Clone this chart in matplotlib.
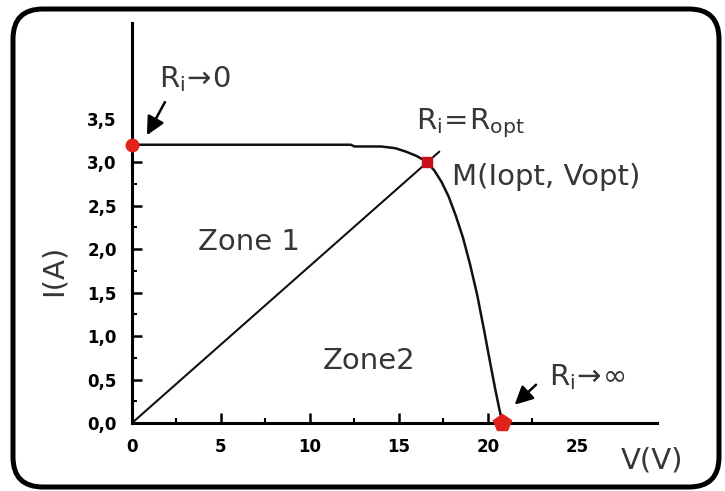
import matplotlib
matplotlib.use("Agg")
import matplotlib.pyplot as plt
from matplotlib.patches import FancyBboxPatch
from matplotlib.transforms import IdentityTransform

# I-V characteristic of the PV module (V in volts, I in amperes)
voltage = [0.0, 12.3, 12.5, 14.0, 14.8, 15.4, 16.0, 16.6, 17.0, 17.4, 17.8,
           18.2, 18.6, 19.0, 19.4, 19.8, 20.1, 20.4, 20.6, 20.75, 20.8]
current = [3.2, 3.2, 3.18, 3.18, 3.16, 3.12, 3.07, 3.0, 2.9, 2.77, 2.6,
           2.38, 2.13, 1.82, 1.47, 1.05, 0.72, 0.40, 0.2, 0.06, 0.0]

# characteristic points
i_sc = 3.2
v_opt, i_opt = 16.6, 3.0
v_oc = 20.8
load_v_end = 17.3

# axis ticks
x_major = [0, 5, 10, 15, 20, 25]
x_minor = [2.5, 7.5, 12.5, 17.5, 22.5]
y_major = [0.0, 0.5, 1.0, 1.5, 2.0, 2.5, 3.0, 3.5]
y_minor = [0.25, 0.75, 1.25, 1.75, 2.25, 2.75]
x_labels = ["0", "5", "10", "15", "20", "25"]
y_labels = ["0,0", "0,5", "1,0", "1,5", "2,0", "2,5", "3,0", "3,5"]

W, H, DPI = 725, 491, 100
fig = plt.figure(figsize=(W / DPI, H / DPI), dpi=DPI)
fig.patch.set_facecolor("white")

# rounded frame around the whole graphic
frame = FancyBboxPatch((13, 4), 706, 478,
                       boxstyle="round,pad=0,rounding_size=30",
                       transform=IdentityTransform(), facecolor="none",
                       edgecolor="black", linewidth=3.6)
fig.patches.append(frame)

ax = fig.add_axes([132 / W, (H - 423) / H, 525 / W, 400 / H])
ax.set_xlim(0, 29.5)
ax.set_ylim(0, 4.6)
for s in ("top", "right"):
    ax.spines[s].set_visible(False)
for s in ("left", "bottom"):
    ax.spines[s].set_linewidth(2.2)

tick_font = dict(family=["Liberation Sans Narrow", "DejaVu Sans"],
                 weight="bold", size=12)
ax.set_xticks(x_major)
ax.set_xticklabels(x_labels, **tick_font)
ax.set_yticks(y_major)
ax.set_yticklabels(y_labels, **tick_font)
ax.set_xticks(x_minor, minor=True)
ax.set_yticks(y_minor, minor=True)
ax.tick_params(which="major", direction="in", length=7, width=1.8, pad=11)
ax.tick_params(which="minor", direction="in", length=3.5, width=1.5)
# outermost labelled values carry no tick mark
ax.xaxis.get_major_ticks()[-1].tick1line.set_visible(False)
ax.yaxis.get_major_ticks()[-1].tick1line.set_visible(False)

# load line through the maximum power point
slope = i_opt / v_opt
ax.plot([0, load_v_end], [0, slope * load_v_end], color="#111111",
        lw=1.5, solid_capstyle="butt")

# I-V curve
ax.plot(voltage, current, color="#111111", lw=1.8)

red = "#e3211c"
ax.plot([0], [i_sc], marker="o", ms=9, color=red, mec=red, clip_on=False, zorder=5)
ax.plot([v_opt], [i_opt], marker="s", ms=7.5, color="#c8101a", mec="#c8101a", zorder=5)
ax.plot([v_oc], [0], marker="p", ms=13, color=red, mec=red, clip_on=False, zorder=5)

txt = dict(color="#363636", fontsize=21, family="DejaVu Sans",
           ha="center", va="center")
ax.text(3.55, 3.95, r"$\mathregular{R_i\!\rightarrow\!0}$", **txt)
ax.text(19.0, 3.45, r"$\mathregular{R_i\!=\!R_{opt}}$", **txt)
ax.text(23.3, 2.83, "M(Iopt, Vopt)", **txt)
ax.text(6.6, 2.08, "Zone 1", **txt)
ax.text(13.3, 0.71, "Zone2", **txt)
ax.text(25.6, 0.53, r"$\mathregular{R_i\!\rightarrow\!\infty}$", **txt)
ax.text(29.2, -0.43, "V(V)", **txt)
ax.text(-4.4, 1.75, "I(A)", rotation=90, **txt)

arrow = dict(arrowstyle="-|>,head_length=1.1,head_width=0.55",
             color="black", lw=1.8, shrinkA=0, shrinkB=0)
ax.annotate("", xy=(0.84, 3.31), xytext=(1.85, 3.69), arrowprops=arrow,
            annotation_clip=False)
ax.annotate("", xy=(21.5, 0.21), xytext=(22.7, 0.44), arrowprops=arrow,
            annotation_clip=False)

fig.savefig("out.png", dpi=DPI, facecolor="white")
